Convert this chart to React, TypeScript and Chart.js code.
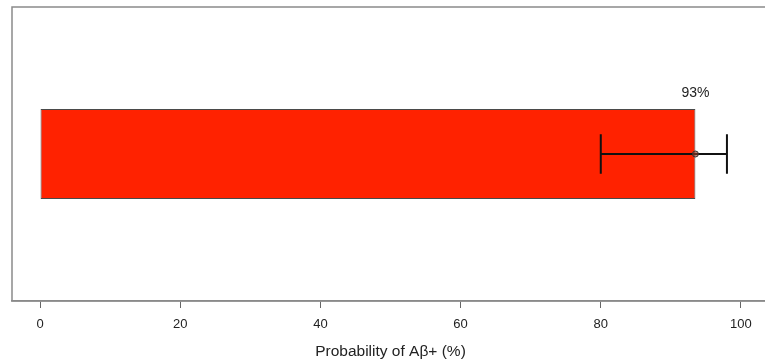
import React, { useEffect, useRef } from "react";
import { Chart, registerables } from "chart.js";

Chart.register(...registerables);

const categories = ["Aβ+"];
const probability = [93.5];
const ciLow = [80];
const ciHigh = [98];
const valueLabels = ["93%"];
const tickValues = [0, 20, 40, 60, 80, 100];
const axisMin = -4;
const axisMax = 104;
const axisTitle = "Probability of Aβ+ (%)";

const FONT = "'Liberation Sans', Arial, Helvetica, sans-serif";

const overlayPlugin = {
  id: "overlay",
  afterDatasetsDraw(chart: any) {
    const ctx = chart.ctx;
    const xs = chart.scales.x;
    const meta = chart.getDatasetMeta(0);
    meta.data.forEach((bar: any, i: number) => {
      const y = bar.y;
      const h = bar.height;
      const cap = h * 0.22;
      const x1 = xs.getPixelForValue(ciLow[i]);
      const x2 = xs.getPixelForValue(ciHigh[i]);
      const xm = xs.getPixelForValue(probability[i]);
      ctx.save();
      ctx.strokeStyle = "#111";
      ctx.lineWidth = 2;
      ctx.beginPath();
      ctx.moveTo(x1, y);
      ctx.lineTo(x2, y);
      ctx.moveTo(x1, y - cap);
      ctx.lineTo(x1, y + cap);
      ctx.moveTo(x2, y - cap);
      ctx.lineTo(x2, y + cap);
      ctx.stroke();
      ctx.lineWidth = 1;
      ctx.strokeStyle = "#333";
      ctx.fillStyle = "rgba(150,60,40,0.6)";
      ctx.beginPath();
      ctx.arc(xm, y, 3, 0, Math.PI * 2);
      ctx.fill();
      ctx.stroke();
      ctx.fillStyle = "#222";
      ctx.font = `14px ${FONT}`;
      ctx.textAlign = "center";
      ctx.textBaseline = "middle";
      ctx.fillText(valueLabels[i], bar.x, y - h / 2 - 16);
      ctx.restore();
    });
  },
  afterDraw(chart: any) {
    const { ctx, chartArea } = chart;
    ctx.save();
    ctx.strokeStyle = "#8a8a8a";
    ctx.lineWidth = 1.5;
    ctx.strokeRect(
      chartArea.left,
      chartArea.top,
      chartArea.right - chartArea.left,
      chartArea.bottom - chartArea.top
    );
    ctx.restore();
  },
};

export default function App() {
  const ref = useRef<HTMLCanvasElement | null>(null);
  useEffect(() => {
    if (!ref.current) return;
    const chart = new Chart(ref.current, {
      type: "bar",
      data: {
        labels: categories,
        datasets: [
          {
            data: probability,
            backgroundColor: "#ff2200",
            borderColor: "#4a4a4a",
            borderWidth: 1,
            borderSkipped: false,
            barPercentage: 0.306,
            categoryPercentage: 1,
          },
        ],
      },
      options: {
        indexAxis: "y",
        animation: false,
        responsive: false,
        layout: { padding: { left: 12, top: 7, right: 21, bottom: 0 } },
        plugins: { legend: { display: false }, tooltip: { enabled: false } },
        scales: {
          y: { display: false },
          x: {
            type: "linear",
            min: axisMin,
            max: axisMax,
            afterBuildTicks(scale: any) {
              scale.ticks = tickValues.map((v) => ({ value: v }));
            },
            afterFit(scale: any) {
              scale.height = 63;
            },
            grid: {
              display: true,
              drawOnChartArea: false,
              drawTicks: true,
              tickLength: 7,
              color: "#666",
              lineWidth: 1,
            },
            border: { display: true, color: "#8a8a8a", width: 1.5 },
            ticks: {
              color: "#222",
              padding: 9,
              font: { size: 13, family: FONT },
              maxRotation: 0,
            },
            title: {
              display: true,
              text: axisTitle,
              color: "#222",
              font: { size: 15.5, family: FONT },
              padding: { top: 4, bottom: 2.5 },
            },
          },
        },
      },
      plugins: [overlayPlugin],
    } as any);
    return () => chart.destroy();
  }, []);
  return (
    <div
      style={{
        position: "fixed",
        left: 0,
        top: 0,
        width: 765,
        height: 364,
        overflow: "hidden",
        background: "#fff",
      }}
    >
      <canvas
        ref={ref}
        width={790}
        height={364}
        style={{ display: "block", width: 790, height: 364 }}
      />
    </div>
  );
}
